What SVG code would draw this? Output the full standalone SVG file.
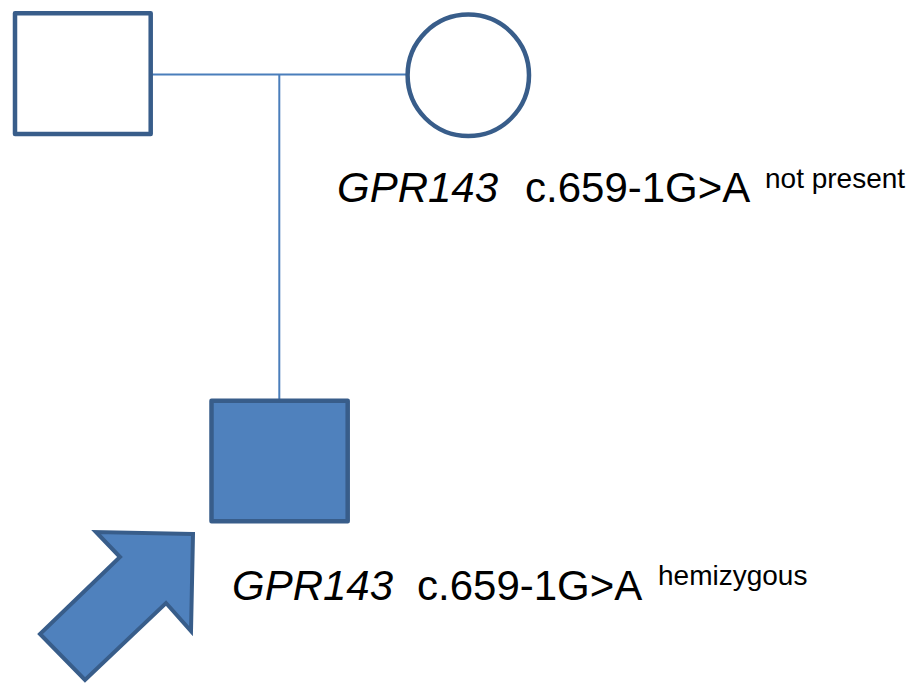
<svg xmlns="http://www.w3.org/2000/svg" width="912" height="685" viewBox="0 0 912 685">
  <style>
    .sym { stroke: #385D8A; stroke-width: 4.5; stroke-linejoin: round; }
    .open { fill: #FFFFFF; }
    .affected { fill: #4F81BD; }
    .line { stroke: #4A7EBB; stroke-width: 2; fill: none; }
    .lbl { font-family: "Liberation Sans", Arial, sans-serif; fill: #000000; }
    .gene { font-style: italic; font-size: 42px; }
    .var { font-size: 42px; }
    .sup { font-size: 28px; }
  </style>

  <!-- pedigree lines -->
  <g id="connectors">
    <line class="line" x1="152" y1="74.5" x2="407" y2="74.5"/>
    <line class="line" x1="279.3" y1="74.5" x2="279.3" y2="399"/>
  </g>

  <!-- father: unaffected male -->
  <g id="father">
    <rect class="sym open" x="15" y="13.3" width="135.7" height="120.7"/>
  </g>

  <!-- mother: unaffected female -->
  <g id="mother">
    <circle class="sym open" cx="468.3" cy="75.3" r="60.7"/>
    <text class="lbl" y="202">
      <tspan class="gene" x="337">GPR143</tspan>
      <tspan class="var" x="525">c.659-1G&gt;A</tspan>
      <tspan class="sup" x="765" y="188">not present</tspan>
    </text>
  </g>

  <!-- proband: affected male -->
  <g id="proband">
    <rect class="sym affected" x="211.5" y="400.7" width="136.2" height="120.5"/>
    <text class="lbl" y="600">
      <tspan class="gene" x="232">GPR143</tspan>
      <tspan class="var" x="417">c.659-1G&gt;A</tspan>
      <tspan class="sup" x="658" y="585">hemizygous</tspan>
    </text>
  </g>

  <!-- proband pointer arrow -->
  <g id="proband-arrow">
    <polygon class="affected" stroke="#385D8A" stroke-width="4" stroke-linejoin="miter"
             points="193,534 96,532 120,557 40,634 85,680 166,603 191,631"/>
  </g>
</svg>
